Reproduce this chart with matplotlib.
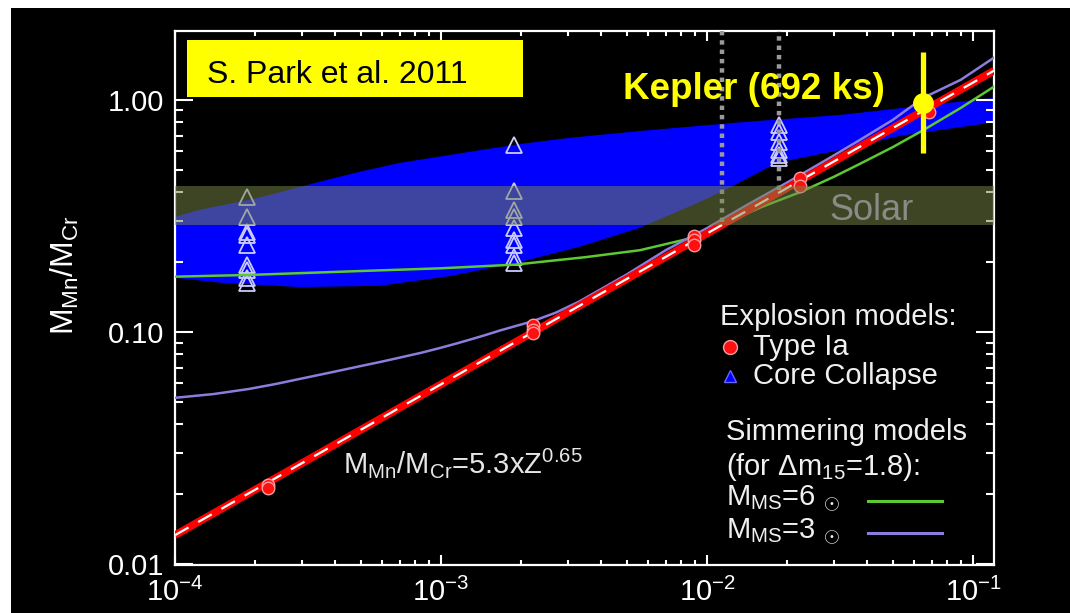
import numpy as np
import matplotlib
matplotlib.use('Agg')
import matplotlib.pyplot as plt
from matplotlib.patches import Rectangle
from matplotlib.ticker import LogLocator, NullFormatter

plt.rcParams['font.family'] = 'Liberation Sans'
plt.rcParams['mathtext.fontset'] = 'custom'
plt.rcParams['mathtext.rm'] = 'Liberation Sans'
plt.rcParams['mathtext.it'] = 'Liberation Sans'
plt.rcParams['mathtext.bf'] = 'Liberation Sans:bold'

# Mn/Cr mass ratio vs metallicity Z

# fitted relation M_Mn/M_Cr = 5.3 x Z^0.65
fit_norm = 5.3
fit_index = 0.65
fit_z = np.array([1.0e-4, 0.12])

# Type Ia explosion models
ia_z = [2.24e-4, 2.24e-4, 2.22e-3, 2.22e-3, 2.22e-3, 8.93e-3, 8.93e-3, 8.93e-3,
        2.24e-2, 2.24e-2, 6.84e-2]
ia_ratio = [0.0219, 0.0213, 0.107, 0.102, 0.099, 0.259, 0.249, 0.237,
            0.461, 0.426, 0.89]

# core collapse models, three metallicities
cc_z = [1.87e-4] * 9 + [1.88e-3] * 9 + [1.87e-2] * 6
cc_ratio = [0.382, 0.313, 0.270, 0.262, 0.237, 0.194, 0.185, 0.171, 0.163,
            0.640, 0.405, 0.336, 0.313, 0.281, 0.249, 0.237, 0.210, 0.198,
            0.780, 0.728, 0.659, 0.608, 0.579, 0.562]

# spread of core collapse yields (blue band)
band_up_z = [1.0e-4, 1.24e-4, 2.0e-4, 3.51e-4, 4.95e-4, 7.0e-4, 1.28e-3, 1.98e-3,
             3.05e-3, 5.6e-3, 1.33e-2, 3.17e-2, 5.32e-2, 0.12]
band_up = [0.313, 0.336, 0.375, 0.444, 0.49, 0.535, 0.597, 0.645,
           0.686, 0.734, 0.80, 0.861, 0.92, 1.02]
band_lo_z = [1.0e-4, 1.48e-4, 2.95e-4, 5.9e-4, 1.08e-3, 1.98e-3, 3.33e-3, 5.6e-3,
             9.4e-3, 1.25e-2, 1.83e-2, 3.17e-2, 5.32e-2, 0.12]
band_lo = [0.171, 0.163, 0.156, 0.158, 0.174, 0.20, 0.233, 0.281,
           0.363, 0.425, 0.535, 0.608, 0.70, 0.80]

# simmering models
ms6_z = [1e-4, 1.9e-4, 5e-4, 1.0e-3, 1.9e-3, 3.5e-3, 5.6e-3, 8.9e-3, 1.14e-2, 1.6e-2,
         2.24e-2, 3.0e-2, 3.76e-2, 5.0e-2, 6.5e-2, 9.0e-2, 0.12]
ms6_ratio = [0.173, 0.176, 0.183, 0.188, 0.195, 0.21, 0.225, 0.255, 0.29, 0.345,
             0.40, 0.466, 0.53, 0.626, 0.74, 0.923, 1.14]
ms3_z = [1e-4, 1.4e-4, 1.9e-4, 2.4e-4, 3e-4, 4e-4, 5e-4, 6e-4, 7e-4, 8.5e-4,
         1.0e-3, 1.15e-3, 1.3e-3, 1.45e-3, 1.67e-3, 2.2e-3, 2.7e-3, 3.3e-3, 4e-3,
         5e-3, 7e-3, 1e-2, 1.4e-2, 2e-2, 2.8e-2, 3.76e-2, 5e-2, 6.5e-2, 9e-2, 0.12]
ms3_ratio = [0.052, 0.054, 0.0568, 0.0597, 0.063, 0.0675, 0.0713, 0.0745, 0.0775, 0.0815,
             0.0855, 0.0893, 0.093, 0.0965, 0.1015, 0.111, 0.121, 0.135, 0.153,
             0.177, 0.225, 0.28, 0.35, 0.44, 0.55, 0.672, 0.82, 1.02, 1.22, 1.52]

# solar range
solar_lo = 0.289
solar_hi = 0.425

# vertical markers
mark_z = [0.0114, 0.0187]
mark_bottom = [0.298, 0.41]

# Kepler measurement
kepler_z = 0.0649
kepler_ratio = 0.97
kepler_lo = 0.59
kepler_hi = 1.61

YMIN, YMAX = 0.0099, 1.98
XMIN, XMAX = 1.0e-4, 0.12

fig = plt.figure(figsize=(10.70, 6.13), dpi=100)
fig.patch.set_facecolor('white')
fig.add_artist(Rectangle((11 / 1070, 0), 1 - 11 / 1070, 1 - 8 / 613,
                         transform=fig.transFigure, facecolor='black',
                         edgecolor='none', zorder=-10))

ax = fig.add_axes([175 / 1070, 1 - 565 / 613, 819 / 1070, 534 / 613])
ax.set_facecolor('black')
ax.set_xscale('log')
ax.set_yscale('log')
ax.set_xlim(XMIN, XMAX)
ax.set_ylim(YMIN, YMAX)

# blue band
poly_z = list(band_up_z) + list(band_lo_z)[::-1]
poly_y = list(band_up) + list(band_lo)[::-1]
ax.fill(poly_z, poly_y, color='#0000ff', lw=0, zorder=1)

ax.plot(cc_z, cc_ratio, ls='none', marker='^', ms=12, mfc='none',
        mec='#ccccff', mew=1.3, zorder=2)

ax.plot(ms6_z, ms6_ratio, color='#5cc832', lw=1.8, zorder=3)
ax.plot(ms3_z, ms3_ratio, color='#8c7ddc', lw=1.8, zorder=3)

fit_y = fit_norm * fit_z ** fit_index
ax.plot(fit_z, fit_y, color='#ff0000', lw=5.5, solid_capstyle='butt', zorder=3.2)
ax.plot(fit_z, fit_y, color='white', lw=1.6, dashes=(7, 5), zorder=3.3)

ax.plot(ia_z, ia_ratio, ls='none', marker='o', ms=9, mfc='#ff1010',
        mec='#ff9a9a', mew=1.0, zorder=4)

ax.vlines(mark_z, mark_bottom, YMAX, colors='#9a9a9a', lw=3.2,
          linestyles=(0, (1, 1.1)), zorder=5)

ax.axhspan(solar_lo, solar_hi, color='#778549', alpha=0.52, lw=0, zorder=6)
ax.text(0.799, (np.log10(solar_lo) - np.log10(YMIN)) / (np.log10(YMAX) - np.log10(YMIN)) + 0.01,
        'Solar', transform=ax.transAxes, fontsize=26, color='#8a8a86',
        va='baseline', ha='left', zorder=7)

ax.errorbar([kepler_z], [kepler_ratio],
            yerr=[[kepler_ratio - kepler_lo], [kepler_hi - kepler_ratio]],
            fmt='o', color='#ffff00', ms=14, elinewidth=3.8, capsize=0, zorder=8)

# axes styling
for sp in ax.spines.values():
    sp.set_color('white')
    sp.set_linewidth(1.6)
ax.set_yticks([0.01, 0.1, 1.0])
ax.set_yticklabels(['0.01', '0.10', '1.00'])
ax.yaxis.set_minor_locator(LogLocator(base=10, subs=np.arange(2, 10)))
ax.yaxis.set_minor_formatter(NullFormatter())
ax.xaxis.set_minor_locator(LogLocator(base=10, subs=np.arange(2, 10)))
ax.xaxis.set_minor_formatter(NullFormatter())
ax.tick_params(which='both', direction='in', colors='white', top=True, right=True,
               labelsize=21, width=1.5)
ax.tick_params(axis='y', which='major', length=13, pad=8)
ax.tick_params(axis='y', which='minor', length=6)
ax.tick_params(axis='x', which='major', length=7.5, pad=9)
ax.tick_params(axis='x', which='minor', length=3.8)

fig.text(65 / 1070, 1 - 275 / 613, r'M$_{\rm Mn}$/M$_{\rm Cr}$', rotation=90,
         color='white', fontsize=23, ha='center', va='center')

# title box
ax.add_patch(Rectangle((0.0147, 0.876), 0.41, 0.107, transform=ax.transAxes,
                       facecolor='#ffff00', edgecolor='none', zorder=9))
ax.text(0.039, 0.903, 'S. Park et al. 2011', transform=ax.transAxes,
        fontsize=23, color='black', va='baseline', ha='left', zorder=10)

ax.text(0.547, 0.873, 'Kepler (692 ks)', transform=ax.transAxes,
        fontsize=26.5, fontweight='bold', color='#ffff00', va='baseline',
        ha='left', zorder=10)

ax.text(0.2051, 0.1723, r'M$_{\rm Mn}$/M$_{\rm Cr}$=5.3xZ$^{0.65}$',
        transform=ax.transAxes, fontsize=21, color='#e6e6e6',
        va='baseline', ha='left', zorder=10)

# legend
lkw = dict(transform=ax.transAxes, fontsize=21, color='#f0f0f0',
           va='baseline', ha='left', zorder=10)
ax.text(0.6654, 0.4494, 'Explosion models:', **lkw)
ax.plot([0.6777], [0.4082], transform=ax.transAxes, marker='o', ms=10,
        mfc='#ff1010', mec='#ff9a9a', ls='none', clip_on=False, zorder=10)
ax.text(0.7057, 0.3933, 'Type Ia', **lkw)
ax.plot([0.6777], [0.3540], transform=ax.transAxes, marker='^', ms=9,
        mfc='#0000ff', mec='#6666ff', ls='none', clip_on=False, zorder=10)
ax.text(0.7057, 0.3390, 'Core Collapse', **lkw)
ax.text(0.6728, 0.2341, 'Simmering models', **lkw)
ax.text(0.6728, 0.1685, r'(for $\Delta$m$_{\rm 15}$=1.8):', **lkw)
ax.text(0.6728, 0.1124, r'M$_{\rm MS}$=6 $_{\odot}$', **lkw)
ax.text(0.6728, 0.0506, r'M$_{\rm MS}$=3 $_{\odot}$', **lkw)
ax.plot([0.8462, 0.9365], [0.1199, 0.1199], transform=ax.transAxes,
        color='#5cc832', lw=2.2, zorder=10)
ax.plot([0.8462, 0.9365], [0.0599, 0.0599], transform=ax.transAxes,
        color='#8c7ddc', lw=2.2, zorder=10)

fig.savefig('out.png', dpi=100, facecolor=fig.get_facecolor())
